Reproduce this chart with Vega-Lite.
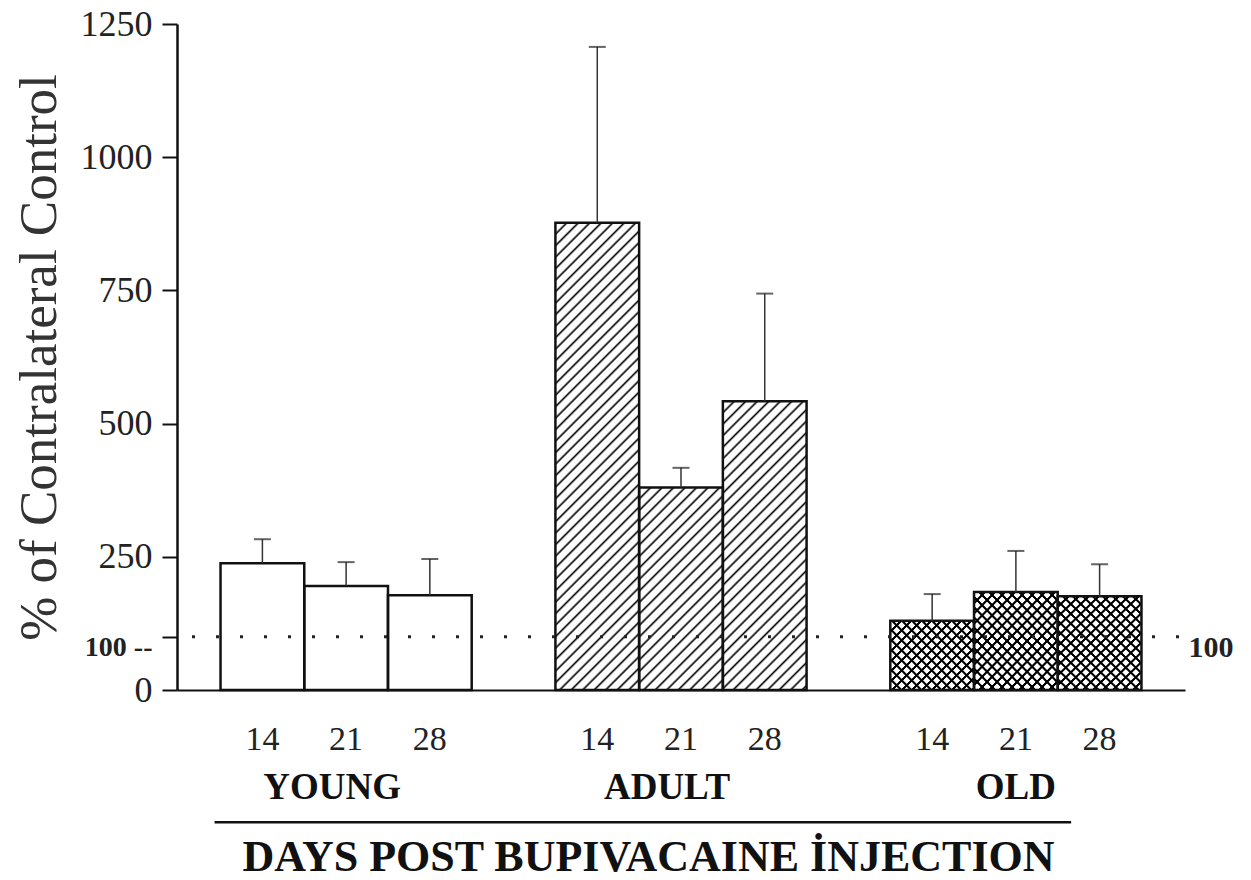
{
"$schema": "https://vega.github.io/schema/vega-lite/v6.json",
"width": 1008, "height": 666,
"autosize": "none",
"padding": {"left": 177, "top": 24, "right": 66, "bottom": 190},
"background": "white",
"config": {"view": {"stroke": null}, "font": "'Liberation Serif', 'Times New Roman', Times, serif"},
"data": {"values": [
{"g":"YOUNG","d":"14","v":238,"e":283},
{"g":"YOUNG","d":"21","v":195,"e":240},
{"g":"YOUNG","d":"28","v":178,"e":246},
{"g":"ADULT","d":"14","v":877,"e":1207},
{"g":"ADULT","d":"21","v":380,"e":417},
{"g":"ADULT","d":"28","v":542,"e":744},
{"g":"OLD","d":"14","v":130,"e":180},
{"g":"OLD","d":"21","v":184,"e":261},
{"g":"OLD","d":"28","v":176,"e":236}
]},
"layer": [
{"mark": {"type": "bar", "fill": "#fff"},
 "encoding": {
  "x": {"field": "g", "type": "nominal", "scale": {"domain": ["YOUNG","ADULT","OLD"], "paddingInner": 0.25, "paddingOuter": 0.13},
    "axis": {"title": "DAYS POST BUPIVACAINE İNJECTION", "titleFont": "'Liberation Serif', 'Times New Roman', Times, serif", "titleFontSize": 44, "titleFontWeight": "bold", "titleColor": "#111", "titlePadding": 30, "titleX": 471, "titleAlign": "center",
      "labelAngle": 0, "labelFont": "'Liberation Serif', 'Times New Roman', Times, serif", "labelFontSize": 37, "labelFontWeight": "bold", "labelColor": "#111", "labelPadding": 108, "labelBaseline": "alphabetic",
      "labelOffset": {"condition": {"test": "datum.value == 'OLD'", "value": 0}, "value": -14},
      "ticks": false, "tickSize": 0, "domainColor": "#111", "domainWidth": 2}},
  "xOffset": {"field": "d", "type": "nominal", "scale": {"domain": ["14","21","28"], "paddingInner": 0, "paddingOuter": 0}},
  "y": {"field": "v", "type": "quantitative", "scale": {"domain": [0, 1250], "nice": false},
    "axis": {"title": "% of Contralateral Control", "titleFont": "'Liberation Serif', 'Times New Roman', Times, serif", "titleFontSize": 53, "titleFontWeight": "normal", "titleColor": "#333", "titlePadding": 14,
      "values": [0, 100, 250, 500, 750, 1000, 1250], "format": "d", "labelOverlap": false,
      "labelExpr": "datum.value == 100 ? '100 --' : datum.label",
      "labelFont": "'Liberation Serif', 'Times New Roman', Times, serif",
      "labelFontSize": {"condition": {"test": "datum.value == 100", "value": 28}, "value": 36},
      "labelFontWeight": {"condition": {"test": "datum.value == 100", "value": "bold"}, "value": "normal"},
      "labelOffset": {"condition": {"test": "datum.value == 100", "value": 11}, "value": 0},
      "labelColor": "#222", "labelPadding": 10, "tickSize": 15, "tickWidth": 2, "tickColor": "#111",
      "domainColor": "#111", "domainWidth": 2.5, "grid": false}}
 }},
{"transform": [{"filter": "datum.g == 'ADULT' && datum.d == '14'"}],
 "mark": {"type": "bar", "fill": {"gradient": "linear", "x1": 0, "y1": 0, "x2": 0.21362, "y2": 1.19228, "stops": [
{"offset":0,"color":"#000"},{"offset":0.004,"color":"#fff"},{"offset":0.016,"color":"#fff"},
{"offset":0.02,"color":"#000"},{"offset":0.024,"color":"#fff"},{"offset":0.036,"color":"#fff"},
{"offset":0.04,"color":"#000"},{"offset":0.044,"color":"#fff"},{"offset":0.056,"color":"#fff"},
{"offset":0.06,"color":"#000"},{"offset":0.064,"color":"#fff"},{"offset":0.076,"color":"#fff"},
{"offset":0.08,"color":"#000"},{"offset":0.084,"color":"#fff"},{"offset":0.096,"color":"#fff"},
{"offset":0.1,"color":"#000"},{"offset":0.104,"color":"#fff"},{"offset":0.116,"color":"#fff"},
{"offset":0.12,"color":"#000"},{"offset":0.124,"color":"#fff"},{"offset":0.136,"color":"#fff"},
{"offset":0.14,"color":"#000"},{"offset":0.144,"color":"#fff"},{"offset":0.156,"color":"#fff"},
{"offset":0.16,"color":"#000"},{"offset":0.164,"color":"#fff"},{"offset":0.176,"color":"#fff"},
{"offset":0.18,"color":"#000"},{"offset":0.184,"color":"#fff"},{"offset":0.196,"color":"#fff"},
{"offset":0.2,"color":"#000"},{"offset":0.204,"color":"#fff"},{"offset":0.216,"color":"#fff"},
{"offset":0.22,"color":"#000"},{"offset":0.224,"color":"#fff"},{"offset":0.236,"color":"#fff"},
{"offset":0.24,"color":"#000"},{"offset":0.244,"color":"#fff"},{"offset":0.256,"color":"#fff"},
{"offset":0.26,"color":"#000"},{"offset":0.264,"color":"#fff"},{"offset":0.276,"color":"#fff"},
{"offset":0.28,"color":"#000"},{"offset":0.284,"color":"#fff"},{"offset":0.296,"color":"#fff"},
{"offset":0.3,"color":"#000"},{"offset":0.304,"color":"#fff"},{"offset":0.316,"color":"#fff"},
{"offset":0.32,"color":"#000"},{"offset":0.324,"color":"#fff"},{"offset":0.336,"color":"#fff"},
{"offset":0.34,"color":"#000"},{"offset":0.344,"color":"#fff"},{"offset":0.356,"color":"#fff"},
{"offset":0.36,"color":"#000"},{"offset":0.364,"color":"#fff"},{"offset":0.376,"color":"#fff"},
{"offset":0.38,"color":"#000"},{"offset":0.384,"color":"#fff"},{"offset":0.396,"color":"#fff"},
{"offset":0.4,"color":"#000"},{"offset":0.404,"color":"#fff"},{"offset":0.416,"color":"#fff"},
{"offset":0.42,"color":"#000"},{"offset":0.424,"color":"#fff"},{"offset":0.436,"color":"#fff"},
{"offset":0.44,"color":"#000"},{"offset":0.444,"color":"#fff"},{"offset":0.456,"color":"#fff"},
{"offset":0.46,"color":"#000"},{"offset":0.464,"color":"#fff"},{"offset":0.476,"color":"#fff"},
{"offset":0.48,"color":"#000"},{"offset":0.484,"color":"#fff"},{"offset":0.496,"color":"#fff"},
{"offset":0.5,"color":"#000"},{"offset":0.504,"color":"#fff"},{"offset":0.516,"color":"#fff"},
{"offset":0.52,"color":"#000"},{"offset":0.524,"color":"#fff"},{"offset":0.536,"color":"#fff"},
{"offset":0.54,"color":"#000"},{"offset":0.544,"color":"#fff"},{"offset":0.556,"color":"#fff"},
{"offset":0.56,"color":"#000"},{"offset":0.564,"color":"#fff"},{"offset":0.576,"color":"#fff"},
{"offset":0.58,"color":"#000"},{"offset":0.584,"color":"#fff"},{"offset":0.596,"color":"#fff"},
{"offset":0.6,"color":"#000"},{"offset":0.604,"color":"#fff"},{"offset":0.616,"color":"#fff"},
{"offset":0.62,"color":"#000"},{"offset":0.624,"color":"#fff"},{"offset":0.636,"color":"#fff"},
{"offset":0.64,"color":"#000"},{"offset":0.644,"color":"#fff"},{"offset":0.656,"color":"#fff"},
{"offset":0.66,"color":"#000"},{"offset":0.664,"color":"#fff"},{"offset":0.676,"color":"#fff"},
{"offset":0.68,"color":"#000"},{"offset":0.684,"color":"#fff"},{"offset":0.696,"color":"#fff"},
{"offset":0.7,"color":"#000"},{"offset":0.704,"color":"#fff"},{"offset":0.716,"color":"#fff"},
{"offset":0.72,"color":"#000"},{"offset":0.724,"color":"#fff"},{"offset":0.736,"color":"#fff"},
{"offset":0.74,"color":"#000"},{"offset":0.744,"color":"#fff"},{"offset":0.756,"color":"#fff"},
{"offset":0.76,"color":"#000"},{"offset":0.764,"color":"#fff"},{"offset":0.776,"color":"#fff"},
{"offset":0.78,"color":"#000"},{"offset":0.784,"color":"#fff"},{"offset":0.796,"color":"#fff"},
{"offset":0.8,"color":"#000"},{"offset":0.804,"color":"#fff"},{"offset":0.816,"color":"#fff"},
{"offset":0.82,"color":"#000"},{"offset":0.824,"color":"#fff"},{"offset":0.836,"color":"#fff"},
{"offset":0.84,"color":"#000"},{"offset":0.844,"color":"#fff"},{"offset":0.856,"color":"#fff"},
{"offset":0.86,"color":"#000"},{"offset":0.864,"color":"#fff"},{"offset":0.876,"color":"#fff"},
{"offset":0.88,"color":"#000"},{"offset":0.884,"color":"#fff"},{"offset":0.896,"color":"#fff"},
{"offset":0.9,"color":"#000"},{"offset":0.904,"color":"#fff"},{"offset":0.916,"color":"#fff"},
{"offset":0.92,"color":"#000"},{"offset":0.924,"color":"#fff"},{"offset":0.936,"color":"#fff"},
{"offset":0.94,"color":"#000"},{"offset":0.944,"color":"#fff"},{"offset":0.956,"color":"#fff"},
{"offset":0.96,"color":"#000"},{"offset":0.964,"color":"#fff"},{"offset":0.976,"color":"#fff"}
 ]}},
 "encoding": {
  "x": {"field": "g", "type": "nominal", "scale": {"domain": ["YOUNG","ADULT","OLD"]}},
  "xOffset": {"field": "d", "type": "nominal", "scale": {"domain": ["14","21","28"]}},
  "y": {"field": "v", "type": "quantitative", "scale": {"domain": [0, 1250], "nice": false}}
 }},
{"transform": [{"filter": "datum.g == 'ADULT' && datum.d == '21'"}],
 "mark": {"type": "bar", "fill": {"gradient": "linear", "x1": 0, "y1": 0, "x2": 0.50146, "y2": 1.21267, "stops": [
{"offset":0,"color":"#000"},{"offset":0.008,"color":"#fff"},{"offset":0.032,"color":"#fff"},
{"offset":0.04,"color":"#000"},{"offset":0.048,"color":"#fff"},{"offset":0.072,"color":"#fff"},
{"offset":0.08,"color":"#000"},{"offset":0.088,"color":"#fff"},{"offset":0.112,"color":"#fff"},
{"offset":0.12,"color":"#000"},{"offset":0.128,"color":"#fff"},{"offset":0.152,"color":"#fff"},
{"offset":0.16,"color":"#000"},{"offset":0.168,"color":"#fff"},{"offset":0.192,"color":"#fff"},
{"offset":0.2,"color":"#000"},{"offset":0.208,"color":"#fff"},{"offset":0.232,"color":"#fff"},
{"offset":0.24,"color":"#000"},{"offset":0.248,"color":"#fff"},{"offset":0.272,"color":"#fff"},
{"offset":0.28,"color":"#000"},{"offset":0.288,"color":"#fff"},{"offset":0.312,"color":"#fff"},
{"offset":0.32,"color":"#000"},{"offset":0.328,"color":"#fff"},{"offset":0.352,"color":"#fff"},
{"offset":0.36,"color":"#000"},{"offset":0.368,"color":"#fff"},{"offset":0.392,"color":"#fff"},
{"offset":0.4,"color":"#000"},{"offset":0.408,"color":"#fff"},{"offset":0.432,"color":"#fff"},
{"offset":0.44,"color":"#000"},{"offset":0.448,"color":"#fff"},{"offset":0.472,"color":"#fff"},
{"offset":0.48,"color":"#000"},{"offset":0.488,"color":"#fff"},{"offset":0.512,"color":"#fff"},
{"offset":0.52,"color":"#000"},{"offset":0.528,"color":"#fff"},{"offset":0.552,"color":"#fff"},
{"offset":0.56,"color":"#000"},{"offset":0.568,"color":"#fff"},{"offset":0.592,"color":"#fff"},
{"offset":0.6,"color":"#000"},{"offset":0.608,"color":"#fff"},{"offset":0.632,"color":"#fff"},
{"offset":0.64,"color":"#000"},{"offset":0.648,"color":"#fff"},{"offset":0.672,"color":"#fff"},
{"offset":0.68,"color":"#000"},{"offset":0.688,"color":"#fff"},{"offset":0.712,"color":"#fff"},
{"offset":0.72,"color":"#000"},{"offset":0.728,"color":"#fff"},{"offset":0.752,"color":"#fff"},
{"offset":0.76,"color":"#000"},{"offset":0.768,"color":"#fff"},{"offset":0.792,"color":"#fff"},
{"offset":0.8,"color":"#000"},{"offset":0.808,"color":"#fff"},{"offset":0.832,"color":"#fff"},
{"offset":0.84,"color":"#000"},{"offset":0.848,"color":"#fff"},{"offset":0.872,"color":"#fff"},
{"offset":0.88,"color":"#000"},{"offset":0.888,"color":"#fff"},{"offset":0.912,"color":"#fff"},
{"offset":0.92,"color":"#000"},{"offset":0.928,"color":"#fff"},{"offset":0.952,"color":"#fff"},
{"offset":0.96,"color":"#000"},{"offset":0.968,"color":"#fff"},{"offset":0.992,"color":"#fff"}
 ]}},
 "encoding": {
  "x": {"field": "g", "type": "nominal", "scale": {"domain": ["YOUNG","ADULT","OLD"]}},
  "xOffset": {"field": "d", "type": "nominal", "scale": {"domain": ["14","21","28"]}},
  "y": {"field": "v", "type": "quantitative", "scale": {"domain": [0, 1250], "nice": false}}
 }},
{"transform": [{"filter": "datum.g == 'ADULT' && datum.d == '28'"}],
 "mark": {"type": "bar", "fill": {"gradient": "linear", "x1": 0, "y1": 0, "x2": 0.42599, "y2": 1.46941, "stops": [
{"offset":0,"color":"#000"},{"offset":0.005,"color":"#fff"},{"offset":0.02,"color":"#fff"},
{"offset":0.025,"color":"#000"},{"offset":0.03,"color":"#fff"},{"offset":0.045,"color":"#fff"},
{"offset":0.05,"color":"#000"},{"offset":0.055,"color":"#fff"},{"offset":0.07,"color":"#fff"},
{"offset":0.075,"color":"#000"},{"offset":0.08,"color":"#fff"},{"offset":0.095,"color":"#fff"},
{"offset":0.1,"color":"#000"},{"offset":0.105,"color":"#fff"},{"offset":0.12,"color":"#fff"},
{"offset":0.125,"color":"#000"},{"offset":0.13,"color":"#fff"},{"offset":0.145,"color":"#fff"},
{"offset":0.15,"color":"#000"},{"offset":0.155,"color":"#fff"},{"offset":0.17,"color":"#fff"},
{"offset":0.175,"color":"#000"},{"offset":0.18,"color":"#fff"},{"offset":0.195,"color":"#fff"},
{"offset":0.2,"color":"#000"},{"offset":0.205,"color":"#fff"},{"offset":0.22,"color":"#fff"},
{"offset":0.225,"color":"#000"},{"offset":0.23,"color":"#fff"},{"offset":0.245,"color":"#fff"},
{"offset":0.25,"color":"#000"},{"offset":0.255,"color":"#fff"},{"offset":0.27,"color":"#fff"},
{"offset":0.275,"color":"#000"},{"offset":0.28,"color":"#fff"},{"offset":0.295,"color":"#fff"},
{"offset":0.3,"color":"#000"},{"offset":0.305,"color":"#fff"},{"offset":0.32,"color":"#fff"},
{"offset":0.325,"color":"#000"},{"offset":0.33,"color":"#fff"},{"offset":0.345,"color":"#fff"},
{"offset":0.35,"color":"#000"},{"offset":0.355,"color":"#fff"},{"offset":0.37,"color":"#fff"},
{"offset":0.375,"color":"#000"},{"offset":0.38,"color":"#fff"},{"offset":0.395,"color":"#fff"},
{"offset":0.4,"color":"#000"},{"offset":0.405,"color":"#fff"},{"offset":0.42,"color":"#fff"},
{"offset":0.425,"color":"#000"},{"offset":0.43,"color":"#fff"},{"offset":0.445,"color":"#fff"},
{"offset":0.45,"color":"#000"},{"offset":0.455,"color":"#fff"},{"offset":0.47,"color":"#fff"},
{"offset":0.475,"color":"#000"},{"offset":0.48,"color":"#fff"},{"offset":0.495,"color":"#fff"},
{"offset":0.5,"color":"#000"},{"offset":0.505,"color":"#fff"},{"offset":0.52,"color":"#fff"},
{"offset":0.525,"color":"#000"},{"offset":0.53,"color":"#fff"},{"offset":0.545,"color":"#fff"},
{"offset":0.55,"color":"#000"},{"offset":0.555,"color":"#fff"},{"offset":0.57,"color":"#fff"},
{"offset":0.575,"color":"#000"},{"offset":0.58,"color":"#fff"},{"offset":0.595,"color":"#fff"},
{"offset":0.6,"color":"#000"},{"offset":0.605,"color":"#fff"},{"offset":0.62,"color":"#fff"},
{"offset":0.625,"color":"#000"},{"offset":0.63,"color":"#fff"},{"offset":0.645,"color":"#fff"},
{"offset":0.65,"color":"#000"},{"offset":0.655,"color":"#fff"},{"offset":0.67,"color":"#fff"},
{"offset":0.675,"color":"#000"},{"offset":0.68,"color":"#fff"},{"offset":0.695,"color":"#fff"},
{"offset":0.7,"color":"#000"},{"offset":0.705,"color":"#fff"},{"offset":0.72,"color":"#fff"},
{"offset":0.725,"color":"#000"},{"offset":0.73,"color":"#fff"},{"offset":0.745,"color":"#fff"},
{"offset":0.75,"color":"#000"},{"offset":0.755,"color":"#fff"},{"offset":0.77,"color":"#fff"},
{"offset":0.775,"color":"#000"},{"offset":0.78,"color":"#fff"},{"offset":0.795,"color":"#fff"},
{"offset":0.8,"color":"#000"},{"offset":0.805,"color":"#fff"},{"offset":0.82,"color":"#fff"},
{"offset":0.825,"color":"#000"},{"offset":0.83,"color":"#fff"},{"offset":0.845,"color":"#fff"}
 ]}},
 "encoding": {
  "x": {"field": "g", "type": "nominal", "scale": {"domain": ["YOUNG","ADULT","OLD"]}},
  "xOffset": {"field": "d", "type": "nominal", "scale": {"domain": ["14","21","28"]}},
  "y": {"field": "v", "type": "quantitative", "scale": {"domain": [0, 1250], "nice": false}}
 }},
{"transform": [{"filter": "datum.g == 'OLD' && datum.d == '14'"}],
 "mark": {"type": "bar", "fill": {"gradient": "linear", "x1": 0, "y1": 0, "x2": 1.41828, "y2": 1.17331, "stops": [
{"offset":0,"color":"#000"},{"offset":0.01,"color":"#000"},{"offset":0.015,"color":"transparent"},{"offset":0.045,"color":"transparent"},
{"offset":0.05,"color":"#000"},{"offset":0.06,"color":"#000"},{"offset":0.065,"color":"transparent"},{"offset":0.095,"color":"transparent"},
{"offset":0.1,"color":"#000"},{"offset":0.11,"color":"#000"},{"offset":0.115,"color":"transparent"},{"offset":0.145,"color":"transparent"},
{"offset":0.15,"color":"#000"},{"offset":0.16,"color":"#000"},{"offset":0.165,"color":"transparent"},{"offset":0.195,"color":"transparent"},
{"offset":0.2,"color":"#000"},{"offset":0.21,"color":"#000"},{"offset":0.215,"color":"transparent"},{"offset":0.245,"color":"transparent"},
{"offset":0.25,"color":"#000"},{"offset":0.26,"color":"#000"},{"offset":0.265,"color":"transparent"},{"offset":0.295,"color":"transparent"},
{"offset":0.3,"color":"#000"},{"offset":0.31,"color":"#000"},{"offset":0.315,"color":"transparent"},{"offset":0.345,"color":"transparent"},
{"offset":0.35,"color":"#000"},{"offset":0.36,"color":"#000"},{"offset":0.365,"color":"transparent"},{"offset":0.395,"color":"transparent"},
{"offset":0.4,"color":"#000"},{"offset":0.41,"color":"#000"},{"offset":0.415,"color":"transparent"},{"offset":0.445,"color":"transparent"},
{"offset":0.45,"color":"#000"},{"offset":0.46,"color":"#000"},{"offset":0.465,"color":"transparent"},{"offset":0.495,"color":"transparent"},
{"offset":0.5,"color":"#000"},{"offset":0.51,"color":"#000"},{"offset":0.515,"color":"transparent"},{"offset":0.545,"color":"transparent"},
{"offset":0.55,"color":"#000"},{"offset":0.56,"color":"#000"},{"offset":0.565,"color":"transparent"},{"offset":0.595,"color":"transparent"},
{"offset":0.6,"color":"#000"},{"offset":0.61,"color":"#000"},{"offset":0.615,"color":"transparent"},{"offset":0.645,"color":"transparent"},
{"offset":0.65,"color":"#000"},{"offset":0.66,"color":"#000"},{"offset":0.665,"color":"transparent"},{"offset":0.695,"color":"transparent"},
{"offset":0.7,"color":"#000"},{"offset":0.71,"color":"#000"},{"offset":0.715,"color":"transparent"},{"offset":0.745,"color":"transparent"},
{"offset":0.75,"color":"#000"},{"offset":0.76,"color":"#000"},{"offset":0.765,"color":"transparent"},{"offset":0.795,"color":"transparent"},
{"offset":0.8,"color":"#000"},{"offset":0.81,"color":"#000"},{"offset":0.815,"color":"transparent"}
 ]}},
 "encoding": {
  "x": {"field": "g", "type": "nominal", "scale": {"domain": ["YOUNG","ADULT","OLD"]}},
  "xOffset": {"field": "d", "type": "nominal", "scale": {"domain": ["14","21","28"]}},
  "y": {"field": "v", "type": "quantitative", "scale": {"domain": [0, 1250], "nice": false}}
 }},
{"transform": [{"filter": "datum.g == 'OLD' && datum.d == '14'"}],
 "mark": {"type": "bar", "fill": {"gradient": "linear", "x1": 0, "y1": 1, "x2": 1.41828, "y2": -0.17331, "stops": [
{"offset":0,"color":"#000"},{"offset":0.01,"color":"#000"},{"offset":0.015,"color":"transparent"},{"offset":0.045,"color":"transparent"},
{"offset":0.05,"color":"#000"},{"offset":0.06,"color":"#000"},{"offset":0.065,"color":"transparent"},{"offset":0.095,"color":"transparent"},
{"offset":0.1,"color":"#000"},{"offset":0.11,"color":"#000"},{"offset":0.115,"color":"transparent"},{"offset":0.145,"color":"transparent"},
{"offset":0.15,"color":"#000"},{"offset":0.16,"color":"#000"},{"offset":0.165,"color":"transparent"},{"offset":0.195,"color":"transparent"},
{"offset":0.2,"color":"#000"},{"offset":0.21,"color":"#000"},{"offset":0.215,"color":"transparent"},{"offset":0.245,"color":"transparent"},
{"offset":0.25,"color":"#000"},{"offset":0.26,"color":"#000"},{"offset":0.265,"color":"transparent"},{"offset":0.295,"color":"transparent"},
{"offset":0.3,"color":"#000"},{"offset":0.31,"color":"#000"},{"offset":0.315,"color":"transparent"},{"offset":0.345,"color":"transparent"},
{"offset":0.35,"color":"#000"},{"offset":0.36,"color":"#000"},{"offset":0.365,"color":"transparent"},{"offset":0.395,"color":"transparent"},
{"offset":0.4,"color":"#000"},{"offset":0.41,"color":"#000"},{"offset":0.415,"color":"transparent"},{"offset":0.445,"color":"transparent"},
{"offset":0.45,"color":"#000"},{"offset":0.46,"color":"#000"},{"offset":0.465,"color":"transparent"},{"offset":0.495,"color":"transparent"},
{"offset":0.5,"color":"#000"},{"offset":0.51,"color":"#000"},{"offset":0.515,"color":"transparent"},{"offset":0.545,"color":"transparent"},
{"offset":0.55,"color":"#000"},{"offset":0.56,"color":"#000"},{"offset":0.565,"color":"transparent"},{"offset":0.595,"color":"transparent"},
{"offset":0.6,"color":"#000"},{"offset":0.61,"color":"#000"},{"offset":0.615,"color":"transparent"},{"offset":0.645,"color":"transparent"},
{"offset":0.65,"color":"#000"},{"offset":0.66,"color":"#000"},{"offset":0.665,"color":"transparent"},{"offset":0.695,"color":"transparent"},
{"offset":0.7,"color":"#000"},{"offset":0.71,"color":"#000"},{"offset":0.715,"color":"transparent"},{"offset":0.745,"color":"transparent"},
{"offset":0.75,"color":"#000"},{"offset":0.76,"color":"#000"},{"offset":0.765,"color":"transparent"},{"offset":0.795,"color":"transparent"},
{"offset":0.8,"color":"#000"},{"offset":0.81,"color":"#000"},{"offset":0.815,"color":"transparent"}
 ]}},
 "encoding": {
  "x": {"field": "g", "type": "nominal", "scale": {"domain": ["YOUNG","ADULT","OLD"]}},
  "xOffset": {"field": "d", "type": "nominal", "scale": {"domain": ["14","21","28"]}},
  "y": {"field": "v", "type": "quantitative", "scale": {"domain": [0, 1250], "nice": false}}
 }},
{"transform": [{"filter": "datum.g == 'OLD' && datum.d != '14'"}],
 "mark": {"type": "bar", "fill": {"gradient": "linear", "x1": 0, "y1": 0, "x2": 1.03321, "y2": 1.18353, "stops": [
{"offset":0,"color":"#000"},{"offset":0.01,"color":"#000"},{"offset":0.015,"color":"transparent"},{"offset":0.045,"color":"transparent"},
{"offset":0.05,"color":"#000"},{"offset":0.06,"color":"#000"},{"offset":0.065,"color":"transparent"},{"offset":0.095,"color":"transparent"},
{"offset":0.1,"color":"#000"},{"offset":0.11,"color":"#000"},{"offset":0.115,"color":"transparent"},{"offset":0.145,"color":"transparent"},
{"offset":0.15,"color":"#000"},{"offset":0.16,"color":"#000"},{"offset":0.165,"color":"transparent"},{"offset":0.195,"color":"transparent"},
{"offset":0.2,"color":"#000"},{"offset":0.21,"color":"#000"},{"offset":0.215,"color":"transparent"},{"offset":0.245,"color":"transparent"},
{"offset":0.25,"color":"#000"},{"offset":0.26,"color":"#000"},{"offset":0.265,"color":"transparent"},{"offset":0.295,"color":"transparent"},
{"offset":0.3,"color":"#000"},{"offset":0.31,"color":"#000"},{"offset":0.315,"color":"transparent"},{"offset":0.345,"color":"transparent"},
{"offset":0.35,"color":"#000"},{"offset":0.36,"color":"#000"},{"offset":0.365,"color":"transparent"},{"offset":0.395,"color":"transparent"},
{"offset":0.4,"color":"#000"},{"offset":0.41,"color":"#000"},{"offset":0.415,"color":"transparent"},{"offset":0.445,"color":"transparent"},
{"offset":0.45,"color":"#000"},{"offset":0.46,"color":"#000"},{"offset":0.465,"color":"transparent"},{"offset":0.495,"color":"transparent"},
{"offset":0.5,"color":"#000"},{"offset":0.51,"color":"#000"},{"offset":0.515,"color":"transparent"},{"offset":0.545,"color":"transparent"},
{"offset":0.55,"color":"#000"},{"offset":0.56,"color":"#000"},{"offset":0.565,"color":"transparent"},{"offset":0.595,"color":"transparent"},
{"offset":0.6,"color":"#000"},{"offset":0.61,"color":"#000"},{"offset":0.615,"color":"transparent"},{"offset":0.645,"color":"transparent"},
{"offset":0.65,"color":"#000"},{"offset":0.66,"color":"#000"},{"offset":0.665,"color":"transparent"},{"offset":0.695,"color":"transparent"},
{"offset":0.7,"color":"#000"},{"offset":0.71,"color":"#000"},{"offset":0.715,"color":"transparent"},{"offset":0.745,"color":"transparent"},
{"offset":0.75,"color":"#000"},{"offset":0.76,"color":"#000"},{"offset":0.765,"color":"transparent"},{"offset":0.795,"color":"transparent"},
{"offset":0.8,"color":"#000"},{"offset":0.81,"color":"#000"},{"offset":0.815,"color":"transparent"},{"offset":0.845,"color":"transparent"},
{"offset":0.85,"color":"#000"},{"offset":0.86,"color":"#000"},{"offset":0.865,"color":"transparent"},{"offset":0.895,"color":"transparent"},
{"offset":0.9,"color":"#000"},{"offset":0.91,"color":"#000"},{"offset":0.915,"color":"transparent"},{"offset":0.945,"color":"transparent"},
{"offset":0.95,"color":"#000"},{"offset":0.96,"color":"#000"},{"offset":0.965,"color":"transparent"}
 ]}},
 "encoding": {
  "x": {"field": "g", "type": "nominal", "scale": {"domain": ["YOUNG","ADULT","OLD"]}},
  "xOffset": {"field": "d", "type": "nominal", "scale": {"domain": ["14","21","28"]}},
  "y": {"field": "v", "type": "quantitative", "scale": {"domain": [0, 1250], "nice": false}}
 }},
{"transform": [{"filter": "datum.g == 'OLD' && datum.d != '14'"}],
 "mark": {"type": "bar", "fill": {"gradient": "linear", "x1": 0, "y1": 1, "x2": 1.03321, "y2": -0.18353, "stops": [
{"offset":0,"color":"#000"},{"offset":0.01,"color":"#000"},{"offset":0.015,"color":"transparent"},{"offset":0.045,"color":"transparent"},
{"offset":0.05,"color":"#000"},{"offset":0.06,"color":"#000"},{"offset":0.065,"color":"transparent"},{"offset":0.095,"color":"transparent"},
{"offset":0.1,"color":"#000"},{"offset":0.11,"color":"#000"},{"offset":0.115,"color":"transparent"},{"offset":0.145,"color":"transparent"},
{"offset":0.15,"color":"#000"},{"offset":0.16,"color":"#000"},{"offset":0.165,"color":"transparent"},{"offset":0.195,"color":"transparent"},
{"offset":0.2,"color":"#000"},{"offset":0.21,"color":"#000"},{"offset":0.215,"color":"transparent"},{"offset":0.245,"color":"transparent"},
{"offset":0.25,"color":"#000"},{"offset":0.26,"color":"#000"},{"offset":0.265,"color":"transparent"},{"offset":0.295,"color":"transparent"},
{"offset":0.3,"color":"#000"},{"offset":0.31,"color":"#000"},{"offset":0.315,"color":"transparent"},{"offset":0.345,"color":"transparent"},
{"offset":0.35,"color":"#000"},{"offset":0.36,"color":"#000"},{"offset":0.365,"color":"transparent"},{"offset":0.395,"color":"transparent"},
{"offset":0.4,"color":"#000"},{"offset":0.41,"color":"#000"},{"offset":0.415,"color":"transparent"},{"offset":0.445,"color":"transparent"},
{"offset":0.45,"color":"#000"},{"offset":0.46,"color":"#000"},{"offset":0.465,"color":"transparent"},{"offset":0.495,"color":"transparent"},
{"offset":0.5,"color":"#000"},{"offset":0.51,"color":"#000"},{"offset":0.515,"color":"transparent"},{"offset":0.545,"color":"transparent"},
{"offset":0.55,"color":"#000"},{"offset":0.56,"color":"#000"},{"offset":0.565,"color":"transparent"},{"offset":0.595,"color":"transparent"},
{"offset":0.6,"color":"#000"},{"offset":0.61,"color":"#000"},{"offset":0.615,"color":"transparent"},{"offset":0.645,"color":"transparent"},
{"offset":0.65,"color":"#000"},{"offset":0.66,"color":"#000"},{"offset":0.665,"color":"transparent"},{"offset":0.695,"color":"transparent"},
{"offset":0.7,"color":"#000"},{"offset":0.71,"color":"#000"},{"offset":0.715,"color":"transparent"},{"offset":0.745,"color":"transparent"},
{"offset":0.75,"color":"#000"},{"offset":0.76,"color":"#000"},{"offset":0.765,"color":"transparent"},{"offset":0.795,"color":"transparent"},
{"offset":0.8,"color":"#000"},{"offset":0.81,"color":"#000"},{"offset":0.815,"color":"transparent"},{"offset":0.845,"color":"transparent"},
{"offset":0.85,"color":"#000"},{"offset":0.86,"color":"#000"},{"offset":0.865,"color":"transparent"},{"offset":0.895,"color":"transparent"},
{"offset":0.9,"color":"#000"},{"offset":0.91,"color":"#000"},{"offset":0.915,"color":"transparent"},{"offset":0.945,"color":"transparent"},
{"offset":0.95,"color":"#000"},{"offset":0.96,"color":"#000"},{"offset":0.965,"color":"transparent"}
 ]}},
 "encoding": {
  "x": {"field": "g", "type": "nominal", "scale": {"domain": ["YOUNG","ADULT","OLD"]}},
  "xOffset": {"field": "d", "type": "nominal", "scale": {"domain": ["14","21","28"]}},
  "y": {"field": "v", "type": "quantitative", "scale": {"domain": [0, 1250], "nice": false}}
 }},
{"mark": {"type": "bar", "fill": "transparent", "stroke": "#111", "strokeWidth": 2.5},
 "encoding": {
  "x": {"field": "g", "type": "nominal", "scale": {"domain": ["YOUNG","ADULT","OLD"]}},
  "xOffset": {"field": "d", "type": "nominal", "scale": {"domain": ["14","21","28"]}},
  "y": {"field": "v", "type": "quantitative", "scale": {"domain": [0, 1250], "nice": false}}
 }},
{"data": {"values": [{"v": 100}]},
 "mark": {"type": "rule", "stroke": "#222", "strokeWidth": 3, "strokeDash": [3, 21], "strokeDashOffset": 18},
 "encoding": {"y": {"field": "v", "type": "quantitative", "scale": {"domain": [0, 1250], "nice": false}}}},
{"mark": {"type": "rule", "stroke": "#333", "strokeWidth": 1.5},
 "encoding": {
  "x": {"field": "g", "type": "nominal", "scale": {"domain": ["YOUNG","ADULT","OLD"]}},
  "xOffset": {"field": "d", "type": "nominal", "scale": {"domain": ["14","21","28"]}},
  "y": {"field": "v", "type": "quantitative", "scale": {"domain": [0, 1250], "nice": false}},
  "y2": {"field": "e"}
 }},
{"mark": {"type": "tick", "color": "#222", "size": 17, "thickness": 2, "orient": "horizontal"},
 "encoding": {
  "x": {"field": "g", "type": "nominal", "scale": {"domain": ["YOUNG","ADULT","OLD"]}},
  "xOffset": {"field": "d", "type": "nominal", "scale": {"domain": ["14","21","28"]}},
  "y": {"field": "e", "type": "quantitative", "scale": {"domain": [0, 1250], "nice": false}}
 }},
{"mark": {"type": "text", "font": "'Liberation Serif', 'Times New Roman', Times, serif", "fontSize": 34, "color": "#222", "baseline": "alphabetic", "dy": 60},
 "encoding": {
  "x": {"field": "g", "type": "nominal", "scale": {"domain": ["YOUNG","ADULT","OLD"]}},
  "xOffset": {"field": "d", "type": "nominal", "scale": {"domain": ["14","21","28"]}},
  "y": {"datum": 0, "type": "quantitative", "scale": {"domain": [0, 1250], "nice": false}},
  "text": {"field": "d"}
 }},
{"data": {"values": [{"v": 100, "t": "100"}]},
 "mark": {"type": "text", "font": "'Liberation Serif', 'Times New Roman', Times, serif", "fontSize": 30, "fontWeight": "bold", "color": "#222", "align": "left", "baseline": "middle", "dx": 47, "dy": 11},
 "encoding": {
  "x": {"datum": "OLD", "type": "nominal", "bandPosition": 1, "scale": {"domain": ["YOUNG","ADULT","OLD"]}},
  "y": {"field": "v", "type": "quantitative", "scale": {"domain": [0, 1250], "nice": false}},
  "text": {"field": "t"}
 }},
{"data": {"values": [{"a": "YOUNG", "b": "OLD"}]},
 "mark": {"type": "rule", "stroke": "#111", "strokeWidth": 2.5, "xOffset": -6},
 "encoding": {
  "x": {"field": "a", "type": "nominal", "bandPosition": 0, "scale": {"domain": ["YOUNG","ADULT","OLD"]}},
  "x2": {"field": "b", "bandPosition": 0.72},
  "y": {"datum": -248, "type": "quantitative", "scale": {"domain": [0, 1250], "nice": false}}
 }}
]
}
